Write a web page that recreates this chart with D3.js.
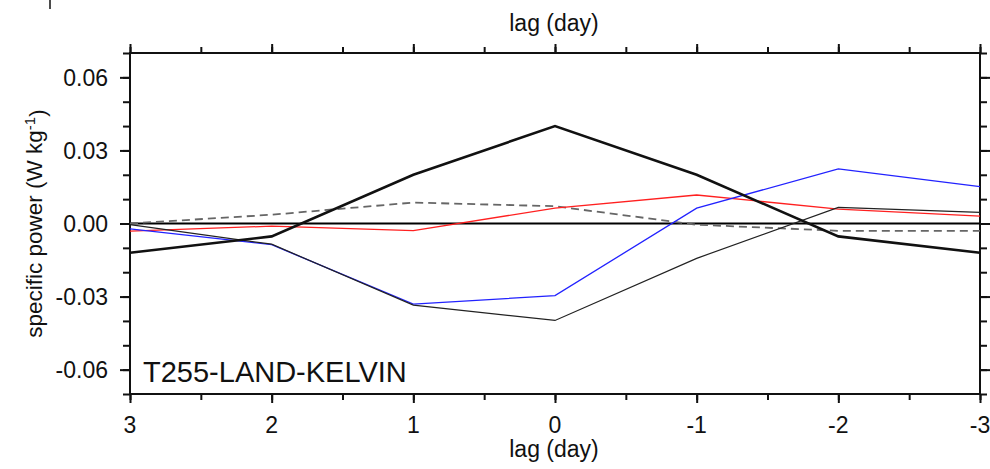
<!DOCTYPE html>
<html>
<head>
<meta charset="utf-8">
<script src="https://cdn.jsdelivr.net/npm/d3@7"></script>
<style>
  html, body { margin: 0; padding: 0; background: #fff; }
  svg { display: block; }
  text { font-family: "Liberation Sans", Arial, sans-serif; fill: #111; }
</style>
</head>
<body>
<svg id="chart" width="990" height="469"></svg>
<script>
// ---- data ----
const lags = [3, 2, 1, 0, -1, -2, -3];
const thickBlack = [-0.012, -0.0053, 0.020, 0.040, 0.020, -0.0053, -0.012];
const thinBlack  = [-0.0005, -0.0085, -0.0335, -0.0398, -0.0143, 0.0066, 0.0046];
const blue       = [-0.0022, -0.0087, -0.0331, -0.0296, 0.0063, 0.0224, 0.0151];
const red        = [-0.0031, -0.0011, -0.0029, 0.0063, 0.0117, 0.0059, 0.0030];
const dashed     = [0.0000, 0.0036, 0.0086, 0.0071, -0.0005, -0.0030, -0.0030];
const xTickLabels = ["3", "2", "1", "0", "-1", "-2", "-3"];
const yTickValues = [-0.06, -0.03, 0.00, 0.03, 0.06];
const yTickLabels = ["-0.06", "-0.03", "0.00", "0.03", "0.06"];
const panelLabel = "T255-LAND-KELVIN";
const xTitle = "lag (day)";

// ---- layout ----
const svg = d3.select("#chart");
const L = 130, R = 980, T = 53, B = 394;
const x = d3.scaleLinear().domain([3, -3]).range([L, R]);
const y = d3.scaleLinear().domain([-0.07, 0.07]).range([B, T]);

const xMinor = d3.range(-3, 3.01, 0.5);
const yMinor = d3.range(-7, 7.01, 1).map(v => v / 100);

function styleAxis(g) {
  g.select(".domain").remove();
  g.selectAll("line").attr("stroke", "#111").attr("stroke-width", 2);
  g.selectAll("text").remove();
}

// minor + major ticks on all four sides
svg.append("g").attr("transform", `translate(0,${B})`)
  .call(d3.axisBottom(x).tickValues(xMinor).tickSize(6).tickSizeOuter(0)).call(styleAxis);
svg.append("g").attr("transform", `translate(0,${B})`)
  .call(d3.axisBottom(x).tickValues(lags).tickSize(9).tickSizeOuter(0)).call(styleAxis);
svg.append("g").attr("transform", `translate(0,${T})`)
  .call(d3.axisTop(x).tickValues(xMinor).tickSize(6).tickSizeOuter(0)).call(styleAxis);
svg.append("g").attr("transform", `translate(0,${T})`)
  .call(d3.axisTop(x).tickValues(lags).tickSize(9).tickSizeOuter(0)).call(styleAxis);
svg.append("g").attr("transform", `translate(${L},0)`)
  .call(d3.axisLeft(y).tickValues(yMinor).tickSize(7).tickSizeOuter(0)).call(styleAxis);
svg.append("g").attr("transform", `translate(${L},0)`)
  .call(d3.axisLeft(y).tickValues(yTickValues).tickSize(10).tickSizeOuter(0)).call(styleAxis);
svg.append("g").attr("transform", `translate(${R},0)`)
  .call(d3.axisRight(y).tickValues(yMinor).tickSize(7).tickSizeOuter(0)).call(styleAxis);
svg.append("g").attr("transform", `translate(${R},0)`)
  .call(d3.axisRight(y).tickValues(yTickValues).tickSize(10).tickSizeOuter(0)).call(styleAxis);

// frame
svg.append("rect").attr("x", L).attr("y", T).attr("width", R - L).attr("height", B - T)
  .attr("fill", "none").attr("stroke", "#111").attr("stroke-width", 2);

// zero line
svg.append("line").attr("x1", L).attr("x2", R).attr("y1", y(0)).attr("y2", y(0))
  .attr("stroke", "#000").attr("stroke-width", 1.8);

// tick labels
svg.append("g").selectAll("text").data(lags).join("text")
  .attr("x", d => x(d)).attr("y", 433)
  .attr("text-anchor", "middle").attr("font-size", 23)
  .text((d, i) => xTickLabels[i]);
svg.append("g").selectAll("text").data(yTickValues).join("text")
  .attr("x", 108).attr("y", d => y(d)).attr("dy", "0.36em")
  .attr("text-anchor", "end").attr("font-size", 23)
  .text((d, i) => yTickLabels[i]);

// titles
svg.append("text").attr("x", 554).attr("y", 457).attr("text-anchor", "middle")
  .attr("font-size", 23).text(xTitle);
svg.append("text").attr("x", 554).attr("y", 31).attr("text-anchor", "middle")
  .attr("font-size", 23).text(xTitle);
const yt = svg.append("text")
  .attr("transform", `translate(42,${(T + B) / 2}) rotate(-90)`)
  .attr("text-anchor", "middle").attr("font-size", 22.5);
yt.append("tspan").text("specific power (W kg");
yt.append("tspan").attr("dy", "-0.45em").attr("font-size", 15).text("-1");
yt.append("tspan").attr("dy", "0.45em").text(")");

// panel label
svg.append("text").attr("x", 143).attr("y", 382).attr("font-size", 29).text(panelLabel);

// small artifact mark at top-left
svg.append("line").attr("x1", 50).attr("x2", 50).attr("y1", 0).attr("y2", 9)
  .attr("stroke", "#111").attr("stroke-width", 1.5);

// series
const line = d3.line().x((d, i) => x(lags[i])).y(d => y(d));
const series = [
  { v: dashed, color: "#666", w: 1.8, dash: "8,5" },
  { v: red, color: "#ff2020", w: 1.3, dash: null },
  { v: blue, color: "#2222ff", w: 1.3, dash: null },
  { v: thinBlack, color: "#222", w: 1.2, dash: null },
  { v: thickBlack, color: "#111", w: 2.6, dash: null }
];
svg.append("g").selectAll("path").data(series).join("path")
  .attr("d", d => line(d.v))
  .attr("fill", "none")
  .attr("stroke", d => d.color)
  .attr("stroke-width", d => d.w)
  .attr("stroke-dasharray", d => d.dash)
  .attr("stroke-linejoin", "miter");
</script>
</body>
</html>
